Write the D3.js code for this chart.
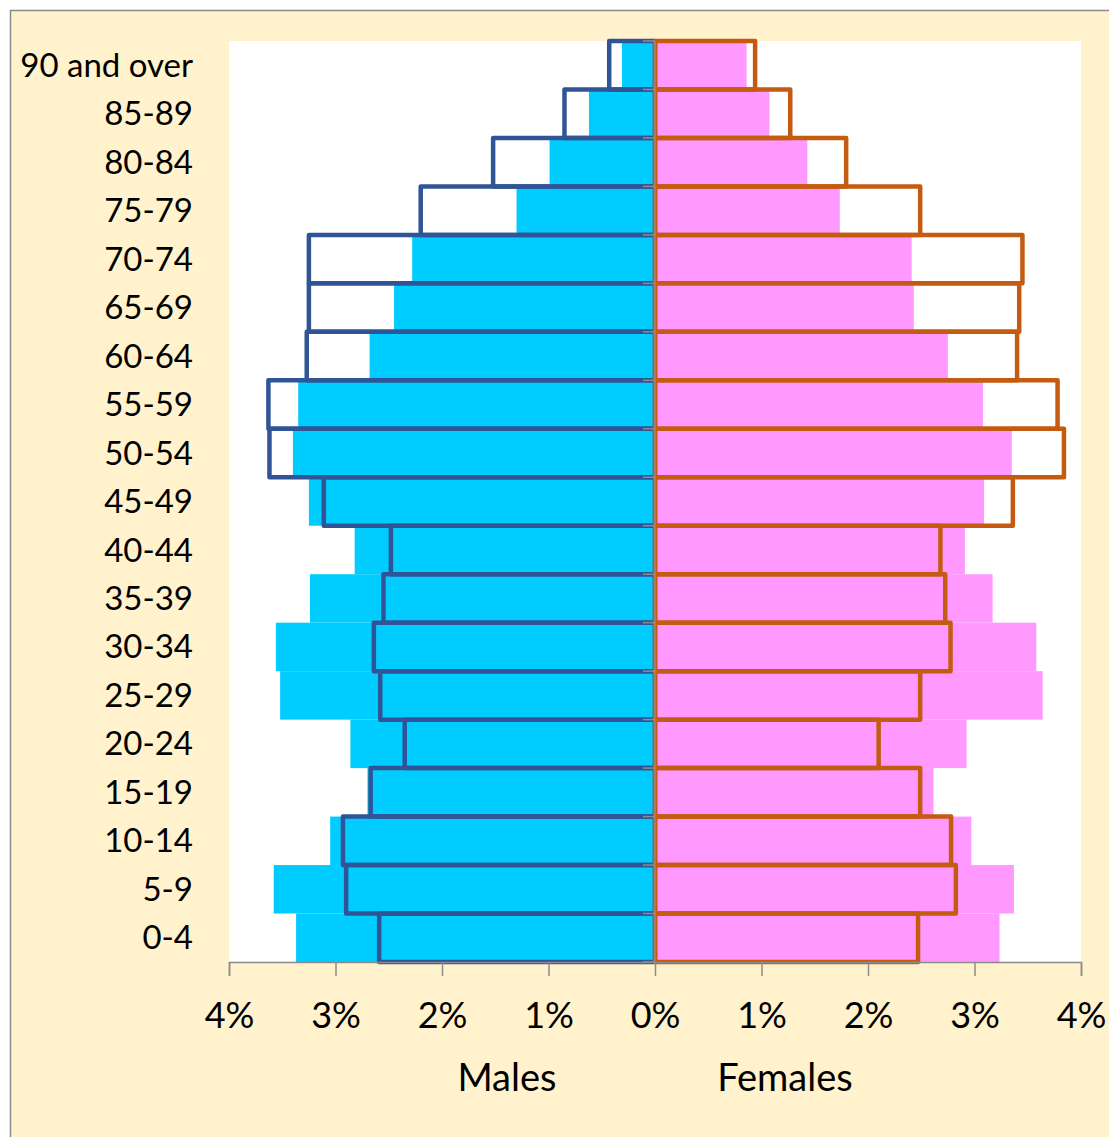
<!DOCTYPE html>
<html>
<head>
<meta charset="utf-8">
<script src="https://cdn.jsdelivr.net/npm/d3@7"></script>
<style>
  html, body { margin: 0; padding: 0; background: #ffffff; }
  svg { display: block; }
  text { font-family: Lato, "Open Sans", sans-serif; fill: #000; }
</style>
</head>
<body>
<svg id="chart" width="1109" height="1137"></svg>
<script>
// Age groups, youngest first (drawn bottom to top)
const ageGroups = ["0-4", "5-9", "10-14", "15-19", "20-24", "25-29", "30-34", "35-39",
  "40-44", "45-49", "50-54", "55-59", "60-64", "65-69", "70-74", "75-79", "80-84",
  "85-89", "90 and over"];

// Share of total population (%), filled bars
const malesFilled = [3.37, 3.58, 3.05, 2.70, 2.86, 3.52, 3.56, 3.24, 2.82, 3.25, 3.40,
  3.35, 2.68, 2.45, 2.28, 1.30, 0.99, 0.62, 0.31];
const femalesFilled = [3.235, 3.37, 2.97, 2.615, 2.925, 3.64, 3.58, 3.17, 2.91, 3.09, 3.35,
  3.08, 2.75, 2.43, 2.41, 1.735, 1.43, 1.075, 0.86];

// Share of total population (%), outlined bars
const malesOutline = [2.59, 2.90, 2.93, 2.67, 2.35, 2.58, 2.64, 2.55, 2.48, 3.11, 3.62,
  3.63, 3.27, 3.25, 3.25, 2.20, 1.52, 0.85, 0.43];
const femalesOutline = [2.47, 2.825, 2.78, 2.49, 2.10, 2.49, 2.775, 2.725, 2.68, 3.36, 3.84,
  3.78, 3.40, 3.42, 3.45, 2.49, 1.795, 1.27, 0.94];

// Axis ticks (%) and their labels
const tickValues = [-4, -3, -2, -1, 0, 1, 2, 3, 4];
const tickLabels = ["4%", "3%", "2%", "1%", "0%", "1%", "2%", "3%", "4%"];
const sideTitles = ["Males", "Females"];

const svg = d3.select("#chart");
const W = 1109, H = 1137;
const plot = { left: 229, right: 1081, top: 41, bottom: 962 };

// Chart background and frame
svg.append("rect").attr("x", 0).attr("y", 0).attr("width", W).attr("height", H).attr("fill", "#ffffff");
svg.append("rect").attr("x", 10).attr("y", 10).attr("width", W - 10).attr("height", H - 10)
  .attr("fill", "#FFF2CC");
svg.append("path").attr("d", `M10.5,${H} V10.5 H${W}`).attr("fill", "none")
  .attr("stroke", "#8c8c8c").attr("stroke-width", 1.5);

// Plot area
svg.append("rect").attr("x", plot.left).attr("y", plot.top)
  .attr("width", plot.right - plot.left).attr("height", plot.bottom - plot.top)
  .attr("fill", "#ffffff");

const x = d3.scaleLinear().domain([-4, 4]).range([plot.left, plot.right]);
const y = d3.scaleBand().domain(ageGroups.slice().reverse())
  .range([plot.top, plot.bottom]).padding(0);

const rows = ageGroups.map((g, i) => ({
  g, mf: malesFilled[i], ff: femalesFilled[i], mo: malesOutline[i], fo: femalesOutline[i]
}));

// Filled bars
svg.append("g").selectAll("rect").data(rows).join("rect")
  .attr("x", d => x(-d.mf)).attr("y", d => y(d.g))
  .attr("width", d => x(0) - x(-d.mf)).attr("height", y.bandwidth())
  .attr("fill", "#00CCFF");
svg.append("g").selectAll("rect").data(rows).join("rect")
  .attr("x", x(0)).attr("y", d => y(d.g))
  .attr("width", d => x(d.ff) - x(0)).attr("height", y.bandwidth())
  .attr("fill", "#FF99FF");

// Outlined bars
svg.append("g").selectAll("rect").data(rows).join("rect")
  .attr("x", d => x(-d.mo)).attr("y", d => y(d.g))
  .attr("width", d => x(0) - x(-d.mo)).attr("height", y.bandwidth())
  .attr("fill", "none").attr("stroke", "#2F5597").attr("stroke-width", 4.5)
  .attr("stroke-linejoin", "round");
svg.append("g").selectAll("rect").data(rows).join("rect")
  .attr("x", x(0)).attr("y", d => y(d.g))
  .attr("width", d => x(d.fo) - x(0)).attr("height", y.bandwidth())
  .attr("fill", "none").attr("stroke", "#C55A11").attr("stroke-width", 4.5)
  .attr("stroke-linejoin", "round");

// Category axis at zero, ticks at band boundaries
const boundaries = ageGroups.map(g => y(g)).concat([plot.bottom]);
const cat = svg.append("g");
cat.append("line").attr("x1", x(0)).attr("x2", x(0))
  .attr("y1", plot.top).attr("y2", plot.bottom)
  .attr("stroke", "#8c8c8c").attr("stroke-width", 1.5);
cat.selectAll("line.tk").data(boundaries).join("line").attr("class", "tk")
  .attr("x1", x(0) - 12).attr("x2", x(0))
  .attr("y1", d => d).attr("y2", d => d)
  .attr("stroke", "#8c8c8c").attr("stroke-width", 1.5);

// Category labels at the left
svg.append("g").selectAll("text").data(ageGroups).join("text")
  .attr("x", 193).attr("y", d => y(d) + y.bandwidth() / 2)
  .attr("dy", "0.35em").attr("text-anchor", "end")
  .style("font-size", "33px").text(d => d);

// Value axis at the bottom
const xAxis = d3.axisBottom(x).tickValues(tickValues).tickSize(14)
  .tickFormat((d, i) => tickLabels[i]).tickPadding(26);
const ax = svg.append("g").attr("transform", `translate(0,${plot.bottom})`).call(xAxis);
ax.select(".domain").attr("stroke", "#8c8c8c").attr("stroke-width", 1.5);
ax.selectAll(".tick line").attr("stroke", "#8c8c8c").attr("stroke-width", 1.5);
ax.selectAll(".tick text").style("font-size", "36px")
  .style("font-family", "Lato, 'Open Sans', sans-serif").attr("fill", "#000");

// Side titles
svg.append("text").attr("x", x(-1.39)).attr("y", 1078).attr("dy", "0.35em")
  .attr("text-anchor", "middle").style("font-size", "38px").text(sideTitles[0]);
svg.append("text").attr("x", x(1.22)).attr("y", 1078).attr("dy", "0.35em")
  .attr("text-anchor", "middle").style("font-size", "38px").text(sideTitles[1]);
</script>
</body>
</html>
